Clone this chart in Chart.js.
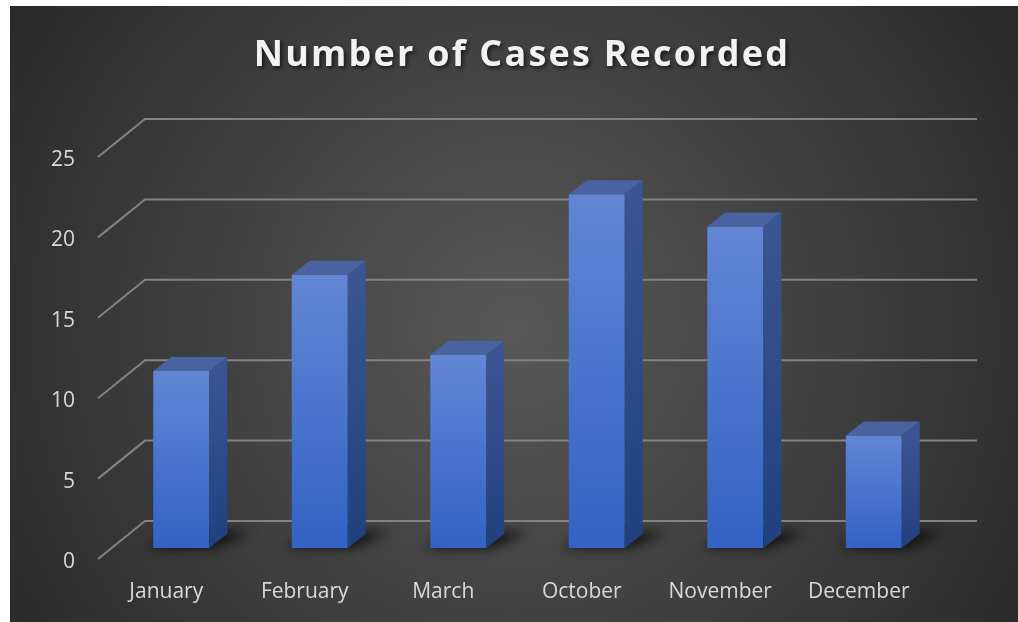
<!DOCTYPE html>
<html><head><meta charset="utf-8">
<script src="https://cdn.jsdelivr.net/npm/chart.js@4.4.1/dist/chart.umd.min.js"></script>
<style>html,body{margin:0;padding:0;background:#fff;overflow:hidden}#wrap{position:absolute;left:0;top:0;width:1018px;height:622px}</style>
</head><body><div id="wrap"><canvas id="c" width="1018" height="622"></canvas></div>
<script>
const categories = ['January', 'February', 'March', 'October', 'November', 'December'];
const cases = [11, 17, 12, 22, 20, 7];
const yTickStep = 5;
const yMax = 25;
const chartTitle = 'Number of Cases Recorded';

const depth = { dx: 18, dy: -14 };
const wall = { frontX: -14, frontY: 11, backX: 33, backY: -27, rightX: 34 };

const scene3d = {
  id: 'scene3d',
  beforeDraw(chart) {
    const { ctx, width, height } = chart;
    ctx.save();
    ctx.fillStyle = '#ffffff';
    ctx.fillRect(0, 0, width, height);
    const g = ctx.createRadialGradient(514, 330, 0, 514, 330, 640);
    g.addColorStop(0, '#585858');
    g.addColorStop(1, '#262626');
    ctx.fillStyle = g;
    ctx.fillRect(10, 6, width - 10, height - 6);
    // title
    ctx.font = 'bold 36px "Open Sans"';
    try { ctx.letterSpacing = '2.2px'; } catch (e) {}
    ctx.textAlign = 'center';
    ctx.textBaseline = 'alphabetic';
    ctx.shadowColor = 'rgba(0,0,0,0.65)';
    ctx.shadowBlur = 4;
    ctx.shadowOffsetX = 2;
    ctx.shadowOffsetY = 2;
    ctx.fillStyle = '#f2f2f2';
    ctx.fillText(chartTitle, 522, 66);
    ctx.restore();
  },
  beforeDatasetsDraw(chart) {
    const { ctx, chartArea } = chart;
    const y = chart.scales.y;
    ctx.save();
    ctx.strokeStyle = '#838383';
    ctx.lineWidth = 2;
    y.ticks.forEach(t => {
      const p = y.getPixelForValue(t.value);
      ctx.beginPath();
      ctx.moveTo(chartArea.left + wall.frontX, p + wall.frontY);
      ctx.lineTo(chartArea.left + wall.backX, p + wall.backY);
      ctx.lineTo(chartArea.right + wall.rightX, p + wall.backY);
      ctx.stroke();
    });
    // shadows
    const meta = chart.getDatasetMeta(0);
    ctx.filter = 'blur(6px)';
    ctx.fillStyle = 'rgba(0,0,0,0.8)';
    meta.data.forEach(bar => {
      const x0 = bar.x - bar.width / 2, x1 = bar.x + bar.width / 2, yb = bar.base;
      ctx.beginPath();
      ctx.moveTo(x0 - 6, yb);
      ctx.lineTo(x1 + 4, yb);
      ctx.lineTo(x1 + depth.dx + 24, yb + depth.dy - 2);
      ctx.lineTo(x0 + depth.dx + 4, yb + depth.dy - 2);
      ctx.closePath();
      ctx.fill();
    });
    ctx.restore();
  },
  afterDatasetsDraw(chart) {
    const { ctx } = chart;
    const meta = chart.getDatasetMeta(0);
    ctx.save();
    meta.data.forEach(bar => {
      const x0 = bar.x - bar.width / 2, x1 = bar.x + bar.width / 2, yt = bar.y, yb = bar.base;
      // top face
      ctx.beginPath();
      ctx.moveTo(x0, yt);
      ctx.lineTo(x1, yt);
      ctx.lineTo(x1 + depth.dx, yt + depth.dy);
      ctx.lineTo(x0 + depth.dx, yt + depth.dy);
      ctx.closePath();
      ctx.fillStyle = '#48639f';
      ctx.fill();
      // side face
      const sg = ctx.createLinearGradient(0, yt, 0, yb);
      sg.addColorStop(0, '#3a5591');
      sg.addColorStop(1, '#21407e');
      ctx.beginPath();
      ctx.moveTo(x1, yt);
      ctx.lineTo(x1 + depth.dx, yt + depth.dy);
      ctx.lineTo(x1 + depth.dx, yb + depth.dy);
      ctx.lineTo(x1, yb);
      ctx.closePath();
      ctx.fillStyle = sg;
      ctx.fill();
    });
    ctx.restore();
  }
};

function frontGradient(context) {
  const chart = context.chart;
  const y = chart.scales.y;
  if (!chart.chartArea || !y || context.parsed == null) return '#4472c4';
  const top = y.getPixelForValue(context.parsed.y);
  const bottom = y.getPixelForValue(0);
  if (!isFinite(top) || !isFinite(bottom) || top === bottom) return '#4472c4';
  const g = chart.ctx.createLinearGradient(0, top, 0, bottom);
  g.addColorStop(0, '#6286d5');
  g.addColorStop(1, '#3262c4');
  return g;
}

new Chart(document.getElementById('c'), {
  type: 'bar',
  data: {
    labels: categories,
    datasets: [{
      label: 'Cases',
      data: cases,
      backgroundColor: frontGradient,
      borderWidth: 0,
      barPercentage: 0.404,
      categoryPercentage: 1
    }]
  },
  options: {
    responsive: false,
    animation: false,
    events: [],
    layout: { padding: { left: 12, right: 75, top: 146, bottom: 0 } },
    plugins: { legend: { display: false }, title: { display: false }, tooltip: { enabled: false } },
    scales: {
      x: {
        grid: { display: false, drawTicks: false },
        border: { display: false },
        ticks: { color: '#d9d9d9', font: { family: '"Open Sans"', size: 21 }, padding: 31, labelOffset: -15 },
        afterFit(s) { s.height = 74; }
      },
      y: {
        min: 0, max: yMax,
        grid: { display: false, drawTicks: false },
        border: { display: false },
        ticks: { stepSize: yTickStep, color: '#d9d9d9', font: { family: '"Open Sans"', size: 21 }, padding: 37, labelOffset: 14 },
        afterFit(s) { s.width = 100; }
      }
    }
  },
  plugins: [scene3d]
});
</script>
</body></html>
